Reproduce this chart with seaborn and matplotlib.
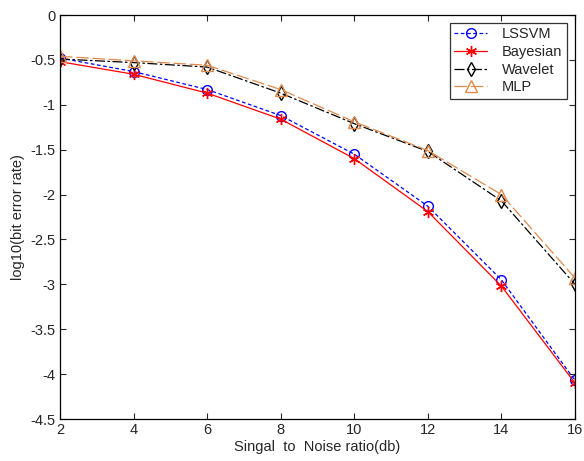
import numpy as np
import pandas as pd
import matplotlib
matplotlib.use("Agg")
import matplotlib.pyplot as plt
import seaborn as sns

# Data
snr_db = [2, 4, 6, 8, 10, 12, 14, 16]
lssvm = [-0.48, -0.63, -0.83, -1.12, -1.55, -2.13, -2.95, -4.07]
bayesian = [-0.52, -0.66, -0.87, -1.16, -1.60, -2.19, -3.02, -4.10]
wavelet = [-0.49, -0.53, -0.58, -0.87, -1.21, -1.52, -2.07, -3.00]
mlp = [-0.46, -0.51, -0.56, -0.83, -1.19, -1.51, -2.00, -2.93]

series_names = ["LSSVM", "Bayesian", "Wavelet", "MLP"]
series_values = [lssvm, bayesian, wavelet, mlp]

df = pd.DataFrame({
    "snr": snr_db * len(series_names),
    "value": sum(series_values, []),
    "method": np.repeat(series_names, len(snr_db)),
})

sns.set_style("ticks")
plt.rcParams["font.family"] = ["Liberation Sans", "DejaVu Sans"]

styles = {
    "LSSVM": dict(color="#0000ff", ls=(0, (3, 2)), marker="o", mfc="none", ms=7),
    "Bayesian": dict(color="#ff0000", ls="-", marker=(6, 2, 0), mfc="#ff0000", ms=8),
    "Wavelet": dict(color="#000000", ls=(0, (8, 2, 2, 2)), marker="d", mfc="none", ms=7),
    "MLP": dict(color="#e08a4c", ls=(0, (10, 3)), marker="^", mfc="none", ms=8),
}

fig = plt.figure(figsize=(5.84, 4.61), dpi=100)
ax = fig.add_axes([60 / 584, 1 - 419 / 461, 515 / 584, 404 / 461])

for name in series_names:
    sub = df[df["method"] == name]
    st = styles[name]
    sns.lineplot(data=sub, x="snr", y="value", ax=ax, color=st["color"],
                 linestyle=st["ls"], linewidth=0.9, marker=st["marker"],
                 markersize=st["ms"], markerfacecolor=st["mfc"],
                 markeredgecolor=st["color"], markeredgewidth=1.0,
                 label=name, estimator=None)

ax.set_xlim(2, 16)
ax.set_ylim(-4.5, 0)
ax.set_xticks(snr_db)
ax.set_yticks(np.arange(-4.5, 0.01, 0.5))
ax.set_yticklabels([f"{v:g}" for v in np.arange(-4.5, 0.01, 0.5)])
ax.tick_params(direction="in", length=4, labelsize=10.5, top=True, right=True,
               width=0.8, pad=3)
for s in ax.spines.values():
    s.set_linewidth(0.9)
    s.set_color("black")
ax.set_xlabel("Singal  to  Noise ratio(db)", fontsize=10.5, labelpad=2)
ax.set_ylabel("log10(bit error rate)", fontsize=10.5, labelpad=4)

leg = ax.legend(loc="upper right", fontsize=10.5, frameon=True, fancybox=False,
                edgecolor="black", borderpad=0.3, handlelength=2.3,
                handletextpad=1.0, labelspacing=0.25, borderaxespad=0,
                bbox_to_anchor=(0.984, 0.98))
leg.get_frame().set_linewidth(0.9)

fig.savefig("out.png", dpi=100)
